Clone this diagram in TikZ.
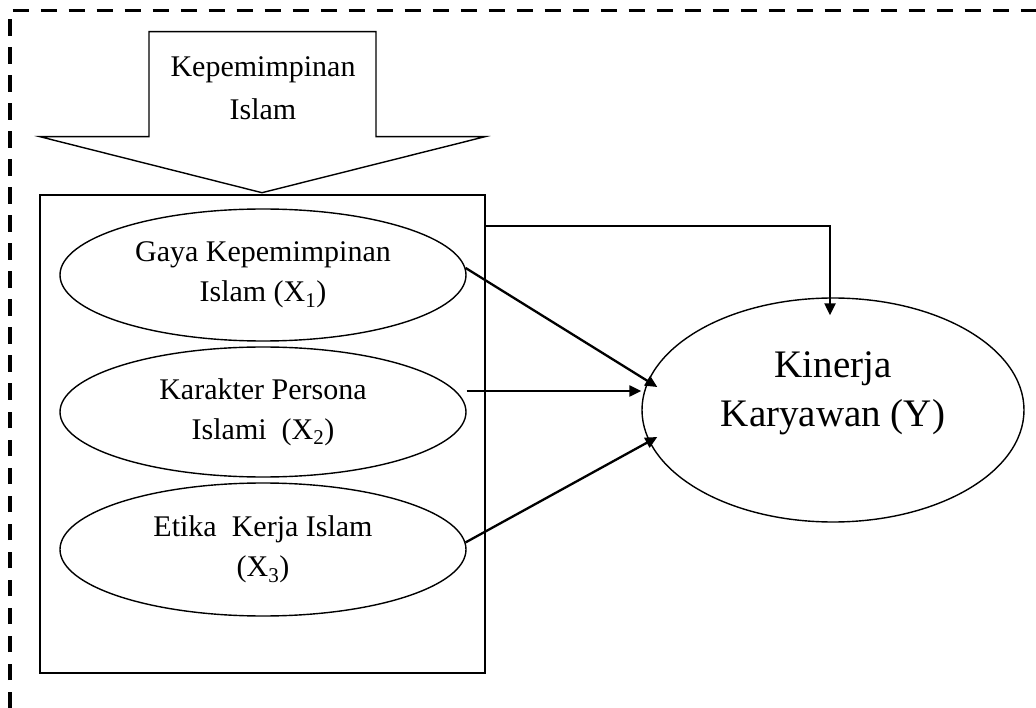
\documentclass[tikz,border=0pt]{standalone}
\usepackage{fontspec}
\setmainfont{Liberation Serif}
\usetikzlibrary{shapes.geometric,arrows.meta}
\tikzset{
  shapeline/.style={draw=black, line width=1.4pt},
  varell/.style={shapeline, ellipse, inner sep=0pt, minimum width=406pt, align=center,
    font=\fontsize{30}{40}\selectfont},
  conn/.style={draw=black, line width=2.3pt, -{Triangle[length=12pt,width=11pt]}},
  border/.style={draw=black, line width=3.4pt, dash pattern=on 16.5pt off 11.5pt},
  txt/.style={align=center, inner sep=0pt}
}
\begin{document}
\begin{tikzpicture}[x=1pt,y=-1pt]
\useasboundingbox (0,0) rectangle (1036,708);
% dashed outer frame
\draw[border] (10,708) -- (10,10.7) -- (1036,10.7);
% block arrow
\draw[shapeline, line join=miter] (149,31.7) -- (376,31.7) -- (376,136.7) -- (485,136.7)
  -- (262,192.7) -- (40,136.7) -- (149,136.7) -- cycle;
\node[txt, font=\fontsize{30}{43}\selectfont] (lead) at (263,88) {Kepemimpinan\\Islam};
% box
\node[shapeline, rectangle, inner sep=0pt, minimum width=445pt, minimum height=478pt] (box) at (262.5,434) {};
% ellipses
\node[varell, minimum height=132pt] (g) at (263,275) {Gaya Kepemimpinan\\Islam (X\textsubscript{1})};
\node[varell, minimum height=130pt] (k) at (263,412) {Karakter Persona\\Islami\ \ (X\textsubscript{2})};
\node[varell, minimum height=133pt] (e) at (263,549.5) {Etika\ \ Kerja Islam\\(X\textsubscript{3})};
\node[shapeline, ellipse, inner sep=0pt, minimum width=382pt, minimum height=224pt] (Y) at (833,410) {};
\node[txt, font=\fontsize{39}{49}\selectfont] (ytext) at (833,393) {Kinerja\\Karyawan (Y)};
% connectors
\draw[conn] ([yshift=-32pt]box.north east) -| ([xshift=-3pt,yshift=-18pt]Y.north);
\draw[conn] (g.2) -- ([xshift=16pt,yshift=23pt]Y.west);
\draw[conn] ([yshift=21pt]k.east) -- ([yshift=19pt]Y.west);
\draw[conn] (e.2) -- ([xshift=16pt,yshift=-27pt]Y.west);
\end{tikzpicture}
\end{document}
